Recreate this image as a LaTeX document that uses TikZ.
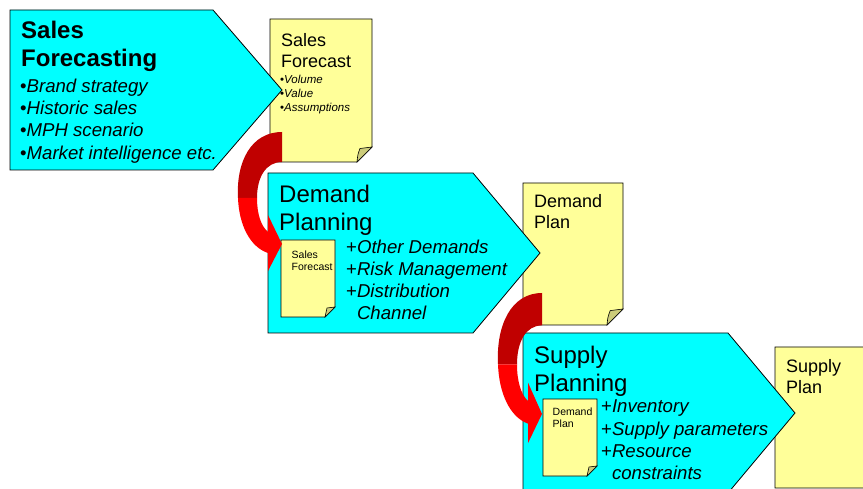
\documentclass[tikz,border=0pt]{standalone}
\usepackage{fontspec}
\setmainfont{Liberation Sans}
\usepackage{tikz}
\usetikzlibrary{positioning}
\definecolor{stagecyan}{HTML}{00FFFF}
\definecolor{noteyellow}{HTML}{FFFF99}
\definecolor{foldyellow}{HTML}{CCCC7A}
\definecolor{bendred}{HTML}{FF0000}
\definecolor{benddark}{HTML}{C00000}
\newcommand{\titlesize}{\fontsize{24}{28}\selectfont}
\newcommand{\itemsize}{\fontsize{18.6}{22.2}\selectfont}
\newcommand{\docsize}{\fontsize{18}{21.5}\selectfont}
\newcommand{\smallsize}{\fontsize{11.5}{13.8}\selectfont}
\newcommand{\tinysize}{\fontsize{10.5}{12.5}\selectfont}
% sheet with folded corner: left, top, right, bottom, fold
\newcommand{\docnote}[5]{%
  \filldraw[note] (#1,#2) -- (#3,#2) -- (#3,#4-#5) -- (#3-#5,#4) -- (#1,#4) -- cycle;
  \filldraw[fold] (#3,#4-#5) -- (#3-0.8*#5,#4-0.9*#5)
    .. controls (#3-0.95*#5,#4-0.5*#5) .. (#3-#5,#4) -- cycle;}
\tikzset{
  pics/bendarrow/.style={code={
    \fill[benddark] (0,0) .. controls (-31,0) and (-46,30) .. (-44,66)
      -- (-25,66) .. controls (-25,45) and (-16,30) .. (0,30) -- cycle;
    \fill[bendred] (-44,66) .. controls (-43,93) and (-32,115) .. (-14,121)
      -- (-14,139) -- (0,112) -- (-14,83) -- (-14,100)
      .. controls (-21,94) and (-25,82) .. (-25,66) -- cycle;
  }}
}

\begin{document}
\begin{tikzpicture}[x=1pt,y=-1pt,
    stage/.style={fill=stagecyan,draw=black,line width=0.8pt},
    note/.style={fill=noteyellow,draw=black,line width=0.8pt},
    fold/.style={fill=foldyellow,draw=black,line width=0.6pt},
    txt/.style={anchor=north west,inner sep=0pt,align=left}]
  \useasboundingbox (0,0) rectangle (863,489);
  \clip (0,0) rectangle (863,489);

  % sales forecasting
  \docnote{270}{19}{372}{162}{15}
  \filldraw[stage] (10,10) -- (213,10) -- (282,90) -- (213,170) -- (10,170) -- cycle;
  \node[txt,font=\titlesize\bfseries] (sftitle) at (21,21) {Sales\\Forecasting};
  \node[txt,font=\itemsize] (sfitems) at (20,78.8) {•\textit{Brand strategy}\\•\textit{Historic sales}\\•\textit{MPH scenario}\\•\textit{Market intelligence etc.}};
  \node[txt,font=\docsize] (sfdoc) at (281,33) {Sales\\Forecast};
  \node[txt,font=\smallsize] (sfdocitems) at (280,75) {•\textit{Volume}\\•\textit{Value}\\•\textit{Assumptions}};

  % demand planning
  \docnote{523}{183}{623}{325}{16}
  \filldraw[stage] (268,173) -- (473,173) -- (540,253) -- (473,333) -- (268,333) -- cycle;
  \docnote{281}{240}{335}{317}{10}
  \node[txt,font=\titlesize] (dptitle) at (279,185) {Demand\\Planning};
  \node[txt,font=\tinysize] (dpin) at (291.5,250.5) {Sales\\Forecast};
  \node[txt,font=\itemsize] (dpitems) at (346,239.7) {+\textit{Other Demands}\\+\textit{Risk Management}\\+\textit{Distribution}\\\phantom{+}\textit{Channel}};
  \node[txt,font=\docsize] (dpdoc) at (534,194) {Demand\\Plan};
  \pic at (282,132) {bendarrow};

  % supply planning
  \docnote{775}{347}{900}{488}{16}
  \filldraw[stage] (523,333) -- (728,333) -- (795,413) -- (728,493) -- (523,493) -- cycle;
  \docnote{543}{399}{597}{476}{10}
  \node[txt,font=\titlesize] (sptitle) at (534,346) {Supply\\Planning};
  \node[txt,font=\tinysize] (spin) at (552.5,407.5) {Demand\\Plan};
  \node[txt,font=\itemsize] (spitems) at (601,400) {+\textit{Inventory}\\+\textit{Supply parameters}\\+\textit{Resource}\\\phantom{+}\textit{constraints}};
  \node[txt,font=\docsize] (spdoc) at (786,358.8) {Supply\\Plan};
  \pic[yscale=1.08] at (542,293) {bendarrow};
\end{tikzpicture}
\end{document}
